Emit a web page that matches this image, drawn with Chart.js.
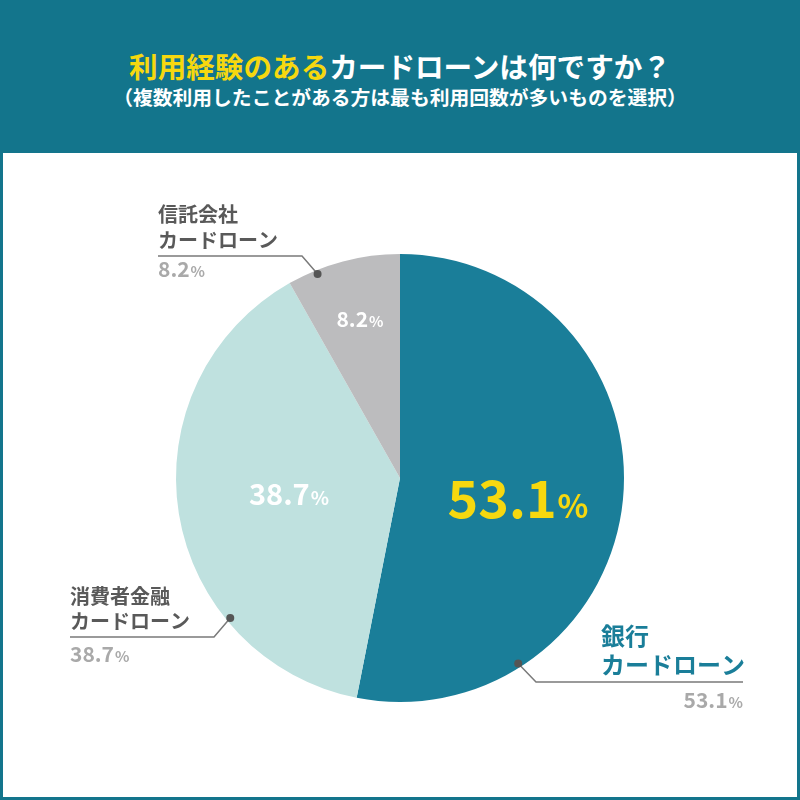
<!DOCTYPE html>
<html>
<head>
<meta charset="utf-8">
<script src="https://cdn.jsdelivr.net/npm/chart.js@4"></script>
<style>
  html, body { margin: 0; padding: 0; }
  body { width: 800px; height: 800px; position: relative; background: #13758c; overflow: hidden;
         font-family: "Noto Sans CJK JP", "Noto Sans", sans-serif; }
  .panel { position: absolute; left: 3px; right: 3px; top: 153px; bottom: 3px; background: #fff; }
  .head { position: absolute; left: 0; right: 0; top: 0; height: 153px; text-align: center; color: #fff; font-weight: bold; }
  .title { position: absolute; left: 0; right: 0; top: 47px; font-size: 28.6px; line-height: 38px; }
  .title .hl { color: #f6d80f; }
  .sub { position: absolute; left: 0; right: 0; top: 84px; font-size: 19.8px; line-height: 26px; }
  canvas { position: absolute; left: 0; top: 0; }
</style>
</head>
<body>
<div class="head">
  <div class="title"><span class="hl">利用経験のある</span>カードローンは何ですか？</div>
  <div class="sub">（複数利用したことがある方は最も利用回数が多いものを選択）</div>
</div>
<div class="panel"></div>
<canvas id="pie_chart" width="800" height="800"></canvas>
<script>
// data
const categories = ['銀行カードローン', '消費者金融カードローン', '信託会社カードローン'];
const category_lines = [['銀行', 'カードローン'], ['消費者金融', 'カードローン'], ['信託会社', 'カードローン']];
const shares = [53.1, 38.7, 8.2];

const slice_colors = ['#1a7e99', '#bfe1df', '#bcbcbe'];
const font_family = '"Noto Sans CJK JP", "Noto Sans", sans-serif';

// where the labels go (layout only)
const label_layout = [
    { dotAngle: 147.5, elbow: [536, 682], lineEnd: 743, nameX: 601, nameY: [636, 665], nameSize: 24, nameColor: '#1a7e99',
      pctX: 743, pctY: 708, pctAlign: 'right',
      inX: 518, inY: 518, inSize: 52, inPct: 32, inColor: '#f6d80f' },
    { dotAngle: 230.5, elbow: [214, 637], lineEnd: 70, nameX: 70, nameY: [596, 621], nameSize: 20, nameColor: '#595959',
      pctX: 70, pctY: 662, pctAlign: 'left',
      inX: 289, inY: 505, inSize: 29, inPct: 19, inColor: '#ffffff' },
    { dotAngle: 338, elbow: [302, 256], lineEnd: 158, nameX: 158, nameY: [214, 240], nameSize: 20, nameColor: '#595959',
      pctX: 158, pctY: 277, pctAlign: 'left',
      inX: 360, inY: 327, inSize: 21, inPct: 15, inColor: '#ffffff' }
];

// draw "53.1" + small "%" on one baseline
function drawPercent(ctx, value, x, y, size, pctSize, color, align) {
    const num = value.toFixed(1);
    ctx.textBaseline = 'alphabetic';
    ctx.fillStyle = color;
    ctx.font = 'bold ' + size + 'px ' + font_family;
    const w1 = ctx.measureText(num).width;
    ctx.font = 'bold ' + pctSize + 'px ' + font_family;
    const w2 = ctx.measureText('%').width + 1;
    let left = x;
    if (align == 'center') left = x - (w1 + w2) / 2;
    if (align == 'right') left = x - (w1 + w2);
    ctx.textAlign = 'left';
    ctx.font = 'bold ' + size + 'px ' + font_family;
    ctx.fillText(num, left, y);
    ctx.font = 'bold ' + pctSize + 'px ' + font_family;
    ctx.fillText('%', left + w1 + 1, y);
}

const labelPlugin = {
    id: 'sliceLabels',
    afterDatasetsDraw(chart) {
        const ctx = chart.ctx;
        const arcs = chart.getDatasetMeta(0).data;
        ctx.save();
        arcs.forEach((arc, i) => {
            const L = label_layout[i];
            const a = (L.dotAngle - 90) * Math.PI / 180;
            const r = arc.outerRadius - 4;
            const dx = arc.x + Math.cos(a) * r;
            const dy = arc.y + Math.sin(a) * r;

            // leader line
            ctx.strokeStyle = '#7a7a7a';
            ctx.lineWidth = 1.5;
            ctx.beginPath();
            ctx.moveTo(dx, dy);
            ctx.lineTo(L.elbow[0], L.elbow[1]);
            ctx.lineTo(L.lineEnd, L.elbow[1]);
            ctx.stroke();
            ctx.fillStyle = '#555';
            ctx.beginPath();
            ctx.arc(dx, dy, 4, 0, Math.PI * 2);
            ctx.fill();

            // name
            ctx.fillStyle = L.nameColor;
            ctx.font = 'bold ' + L.nameSize + 'px ' + font_family;
            ctx.textAlign = 'left';
            ctx.textBaseline = 'middle';
            category_lines[i].forEach((t, k) => ctx.fillText(t, L.nameX, L.nameY[k]));

            // outside percent
            drawPercent(ctx, shares[i], L.pctX, L.pctY, 21, 15, '#a9a9a9', L.pctAlign);
            // inside percent
            drawPercent(ctx, shares[i], L.inX, L.inY, L.inSize, L.inPct, L.inColor, 'center');
        });
        ctx.restore();
    }
};

const ctx = document.getElementById('pie_chart').getContext('2d');
new Chart(ctx, {
    type: 'pie',
    data: {
        labels: categories,
        datasets: [{
            data: shares,
            backgroundColor: slice_colors,
            borderWidth: 0
        }]
    },
    options: {
        responsive: false,
        animation: false,
        layout: { padding: { top: 254, bottom: 98, left: 176, right: 176 } },
        plugins: {
            legend: { display: false },
            tooltip: { enabled: false }
        }
    },
    plugins: [labelPlugin]
});
</script>
</body>
</html>
